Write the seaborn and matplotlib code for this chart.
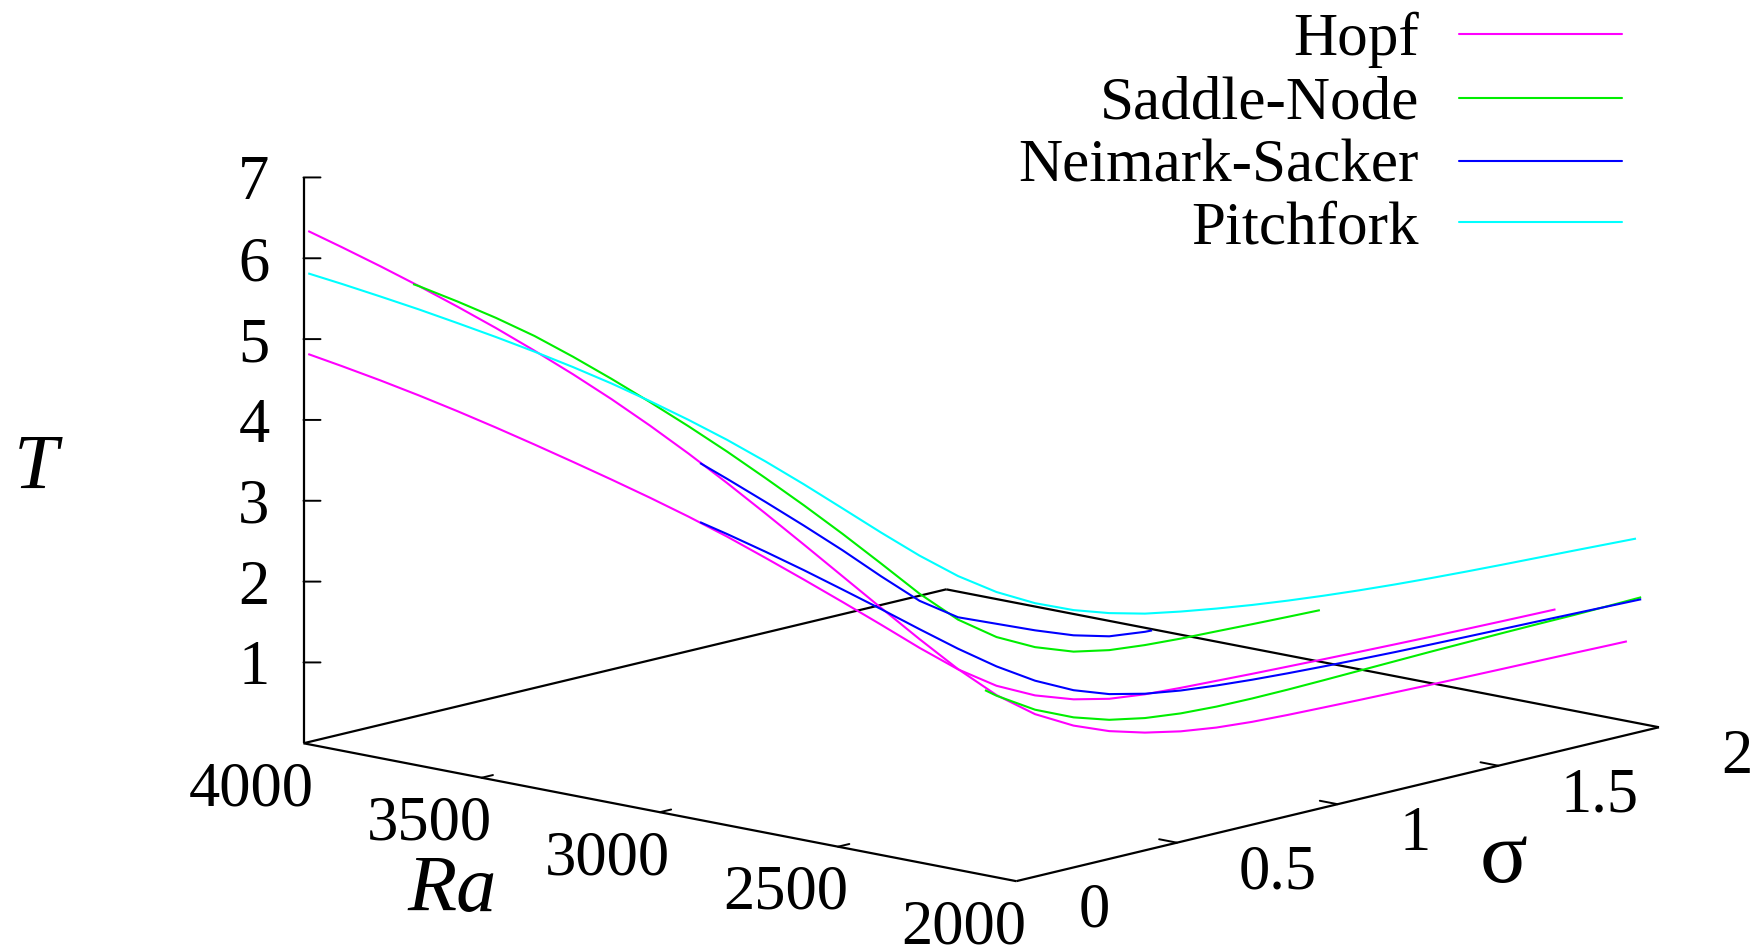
import numpy as np
import matplotlib
matplotlib.use("Agg")
import matplotlib.pyplot as plt
from matplotlib.lines import Line2D
from mpl_toolkits.mplot3d import proj3d
import seaborn as sns

sns.set_theme(style="white")
plt.rcParams["font.family"] = ["Liberation Serif", "DejaVu Serif"]
plt.rcParams["text.color"] = "black"

# ---------------------------------------------------------------------------
# Bifurcation curves in (sigma, Ra, T) space
# ---------------------------------------------------------------------------
hopf1_sigma = [0.0025, 0.02, 0.04, 0.06, 0.08, 0.10, 0.12, 0.14, 0.16, 0.18, 0.20,
               0.22, 0.24, 0.26, 0.28, 0.30, 0.32, 0.34, 0.36, 0.38, 0.40,
               0.5, 0.6, 0.7, 0.8, 0.9, 1.0, 1.1, 1.2, 1.3, 1.4, 1.5, 1.6, 1.7,
               1.8, 1.9, 1.95]
hopf1_ra = [3989, 3910, 3820, 3730, 3640, 3550, 3460, 3370, 3280, 3190, 3100,
            3010, 2920, 2830, 2740, 2650, 2560, 2470, 2380, 2290, 2200,
            2190, 2180, 2170, 2160, 2150, 2140, 2130, 2120, 2110, 2100, 2090,
            2080, 2070, 2060, 2050, 2045]
hopf1_T = [6.344, 6.194, 6.016, 5.829, 5.632, 5.425, 5.203, 4.969, 4.719, 4.449,
           4.161, 3.855, 3.535, 3.207, 2.874, 2.541, 2.212, 1.899, 1.635, 1.457,
           1.373, 1.218, 1.113, 1.042, 1.002, 0.986, 0.985, 0.990, 0.996, 1.004,
           1.012, 1.022, 1.033, 1.045, 1.056, 1.066, 1.072]

hopf2_sigma = [0.0025, 0.02, 0.04, 0.06, 0.08, 0.10, 0.12, 0.14, 0.16, 0.18, 0.20,
               0.22, 0.24, 0.26, 0.28, 0.30, 0.32, 0.34, 0.36, 0.38, 0.40,
               0.5, 0.6, 0.7, 0.8, 0.9, 1.0, 1.1, 1.2, 1.3, 1.4, 1.5, 1.6, 1.7,
               1.75]
hopf2_ra = [3989, 3910, 3820, 3730, 3640, 3550, 3460, 3370, 3280, 3190, 3100,
            3010, 2920, 2830, 2740, 2650, 2560, 2470, 2380, 2290, 2200,
            2190, 2180, 2170, 2160, 2150, 2140, 2130, 2120, 2110, 2100, 2090,
            2080, 2070, 2065]
hopf2_T = [4.822, 4.723, 4.604, 4.476, 4.339, 4.194, 4.042, 3.885, 3.724, 3.557,
           3.381, 3.192, 2.986, 2.774, 2.556, 2.333, 2.104, 1.896, 1.750, 1.689,
           1.698, 1.618, 1.587, 1.580, 1.580, 1.580, 1.583, 1.587, 1.592, 1.598,
           1.605, 1.614, 1.624, 1.635, 1.641]

sn1_sigma = [0.057, 0.06, 0.08, 0.10, 0.12, 0.14, 0.16, 0.18, 0.20,
             0.22, 0.24, 0.26, 0.28, 0.30, 0.32, 0.34, 0.36, 0.38, 0.40,
             0.5, 0.6, 0.7, 0.8, 0.9, 1.0, 1.09]
sn1_ra = [3744, 3730, 3640, 3550, 3460, 3370, 3280, 3190, 3100,
          3010, 2920, 2830, 2740, 2650, 2560, 2470, 2380, 2290, 2200,
          2190, 2180, 2170, 2160, 2150, 2140, 2131]
sn1_T = [5.845, 5.828, 5.696, 5.551, 5.385, 5.186, 4.970, 4.740, 4.499,
         4.244, 3.973, 3.693, 3.399, 3.090, 2.774, 2.511, 2.353, 2.286, 2.288,
         2.220, 2.196, 2.189, 2.192, 2.194, 2.198, 2.203]

sn2_sigma = [0.354, 0.36, 0.38, 0.40, 0.5, 0.6, 0.7, 0.8, 0.9, 1.0, 1.1, 1.2,
             1.3, 1.4, 1.5, 1.6, 1.7, 1.8, 1.9, 1.99]
sn2_ra = [2407, 2380, 2290, 2200, 2190, 2180, 2170, 2160, 2150, 2140, 2130,
          2120, 2110, 2100, 2090, 2080, 2070, 2060, 2050, 2041]
sn2_T = [1.679, 1.627, 1.512, 1.475, 1.358, 1.293, 1.264, 1.261, 1.275, 1.298,
         1.327, 1.358, 1.389, 1.420, 1.448, 1.476, 1.502, 1.526, 1.555, 1.583]

ns1_sigma = [0.206, 0.22, 0.24, 0.26, 0.28, 0.30, 0.32, 0.34, 0.36, 0.38, 0.40,
             0.5, 0.6, 0.62]
ns1_ra = [3073, 3010, 2920, 2830, 2740, 2650, 2560, 2470, 2380, 2290, 2200,
          2190, 2180, 2178]
ns1_T = [4.061, 3.907, 3.678, 3.442, 3.196, 2.932, 2.686, 2.540, 2.517, 2.494,
         2.490, 2.391, 2.360, 2.360]

ns2_sigma = [0.206, 0.22, 0.24, 0.26, 0.28, 0.30, 0.32, 0.34, 0.36, 0.38, 0.40,
             0.5, 0.6, 0.7, 0.8, 0.9, 1.0, 1.1, 1.2, 1.3, 1.4, 1.5, 1.6, 1.7,
             1.8, 1.9, 1.99]
ns2_ra = [3073, 3010, 2920, 2830, 2740, 2650, 2560, 2470, 2380, 2290, 2200,
          2190, 2180, 2170, 2160, 2150, 2140, 2130, 2120, 2110, 2100, 2090,
          2080, 2070, 2060, 2050, 2041]
ns2_T = [3.330, 3.224, 3.062, 2.891, 2.710, 2.526, 2.335, 2.151, 1.990, 1.871,
         1.811, 1.676, 1.594, 1.547, 1.522, 1.507, 1.500, 1.498, 1.499, 1.502,
         1.509, 1.517, 1.526, 1.535, 1.543, 1.551, 1.558]

pf_sigma = [0.0025, 0.02, 0.04, 0.06, 0.08, 0.10, 0.12, 0.14, 0.16, 0.18, 0.20,
            0.22, 0.24, 0.26, 0.28, 0.30, 0.32, 0.34, 0.36, 0.38, 0.40,
            0.5, 0.6, 0.7, 0.8, 0.9, 1.0, 1.1, 1.2, 1.3, 1.4, 1.5, 1.6, 1.7,
            1.8, 1.9, 1.975]
pf_ra = [3989, 3910, 3820, 3730, 3640, 3550, 3460, 3370, 3280, 3190, 3100,
         3010, 2920, 2830, 2740, 2650, 2560, 2470, 2380, 2290, 2200,
         2190, 2180, 2170, 2160, 2150, 2140, 2130, 2120, 2110, 2100, 2090,
         2080, 2070, 2060, 2050, 2042]
pf_T = [5.820, 5.740, 5.642, 5.540, 5.429, 5.314, 5.191, 5.058, 4.913, 4.752,
        4.578, 4.389, 4.179, 3.953, 3.714, 3.473, 3.245, 3.050, 2.910, 2.830,
        2.802, 2.678, 2.585, 2.524, 2.474, 2.432, 2.399, 2.373, 2.353, 2.339,
        2.330, 2.325, 2.323, 2.323, 2.323, 2.322, 2.322]

legend_labels = ["Hopf", "Saddle-Node", "Neimark-Sacker", "Pitchfork"]
legend_colors = ["#ff00ff", "#00ee00", "#0000ff", "#00ffff"]

ra_ticks = [4000, 3500, 3000, 2500, 2000]
ra_ticklabels = ["4000", "3500", "3000", "2500", "2000"]
sigma_ticks = [0, 0.5, 1, 1.5, 2]
sigma_ticklabels = ["0", "0.5", "1", "1.5", "2"]
T_ticks = [1, 2, 3, 4, 5, 6, 7]
T_ticklabels = ["1", "2", "3", "4", "5", "6", "7"]

# ---------------------------------------------------------------------------
W, H = 1760, 948
fig = plt.figure(figsize=(W / 100, H / 100), dpi=100)
fig.patch.set_facecolor("white")
ax = fig.add_axes([0, 0, 1, 1], projection="3d", proj_type="ortho",
                  computed_zorder=False)
ax.set_xlim(0, 2)
ax.set_ylim(2000, 4000)
ax.set_zlim(0, 7)
ax.set_box_aspect((961.8, 958.7, 579.6))
ax.view_init(elev=12.43, azim=-138.05)
ax.set_axis_off()

# base frame and vertical axis
frame = dict(color="black", lw=1.6, zorder=1, solid_capstyle="butt")
ax.plot([0, 0], [4000, 2000], [0, 0], **frame)
ax.plot([0, 2], [2000, 2000], [0, 0], **frame)
ax.plot([2, 2], [2000, 4000], [0, 0], **frame)
ax.plot([2, 0], [4000, 4000], [0, 0], **frame)
ax.plot([0, 0], [4000, 4000], [0, 7], **frame)

# tick marks
tick_kw = dict(color="black", lw=1.4, zorder=1)
for r in ra_ticks[1:-1]:
    ax.plot([0, 0.035], [r, r], [0, 0], **tick_kw)
for s in sigma_ticks[1:-1]:
    ax.plot([s, s], [2000, 2050], [0, 0], **tick_kw)
for t in T_ticks:
    ax.plot([0, 0.0236], [4000, 3973.6], [t, t], **tick_kw)

# tick labels
tfs = 45
for r, lab in zip(ra_ticks, ra_ticklabels):
    ax.text(-0.162, r, -0.34, lab, ha="center", va="center_baseline",
            fontsize=tfs, color="black")
for s, lab in zip(sigma_ticks, sigma_ticklabels):
    ax.text(s, 1826, -0.145, lab, ha="left", va="center_baseline",
            fontsize=tfs, color="black")
for t, lab in zip(T_ticks, T_ticklabels):
    ax.text(-0.047, 4053, t, lab, ha="right", va="center_baseline",
            fontsize=tfs, color="black")

# curves, drawn in key order so later families sit on top
lw = 1.5
curves = [
    (hopf1_sigma, hopf1_ra, hopf1_T, legend_colors[0]),
    (hopf2_sigma, hopf2_ra, hopf2_T, legend_colors[0]),
    (sn1_sigma, sn1_ra, sn1_T, legend_colors[1]),
    (sn2_sigma, sn2_ra, sn2_T, legend_colors[1]),
    (ns1_sigma, ns1_ra, ns1_T, legend_colors[2]),
    (ns2_sigma, ns2_ra, ns2_T, legend_colors[2]),
    (pf_sigma, pf_ra, pf_T, legend_colors[3]),
]
for k, (s, r, t, c) in enumerate(curves):
    ax.plot(s, r, t, color=c, lw=lw, zorder=2 + k * 0.01,
            solid_joinstyle="round", solid_capstyle="butt")

# ---------------------------------------------------------------------------
# place the 3D box: scale and shift the square axes so the base corners land
# at the intended pixel positions
fig.canvas.draw()


def project(x, y, z):
    xs, ys, _ = proj3d.proj_transform(np.array([x], float), np.array([y], float),
                                      np.array([z], float), ax.get_proj())
    return ax.transData.transform(np.column_stack([xs, ys]))[0]


bb = ax.get_position().transformed(fig.transFigure)
S0 = bb.width
c0 = np.array([bb.x0 + bb.width / 2, bb.y0 + bb.height / 2])
f0 = (project(0, 4000, 0) - c0) / S0
f1 = (project(2, 2000, 0) - c0) / S0
t0 = np.array([303.5, H - 743.0])
t1 = np.array([1659.0, H - 727.5])
S = np.linalg.norm(t1 - t0) / np.linalg.norm(f1 - f0)
c = 0.5 * ((t0 - S * f0) + (t1 - S * f1))
ax.set_position([(c[0] - S / 2) / W, (c[1] - S / 2) / H, S / W, S / H])

# axis titles
fig.text(36 / W, 1 - 488 / H, "T", style="italic", fontsize=57,
         ha="center", va="baseline")
fig.text(452 / W, 1 - 911 / H, "Ra", style="italic", fontsize=58,
         ha="center", va="baseline")
fig.text(1504 / W, 1 - 882 / H, "\u03c3", fontsize=64,
         ha="center", va="baseline")

# key
row_y = [33.7, 97.6, 160.5, 222.2]
for lab, col, yy in zip(legend_labels, legend_colors, row_y):
    yf = 1 - yy / H
    fig.text(1419 / W, yf, lab, ha="right", va="center_baseline", fontsize=44)
    fig.add_artist(Line2D([1459 / W, 1622 / W], [yf, yf], color=col, lw=lw,
                          transform=fig.transFigure))

fig.savefig("out.png", dpi=100, facecolor="white")
